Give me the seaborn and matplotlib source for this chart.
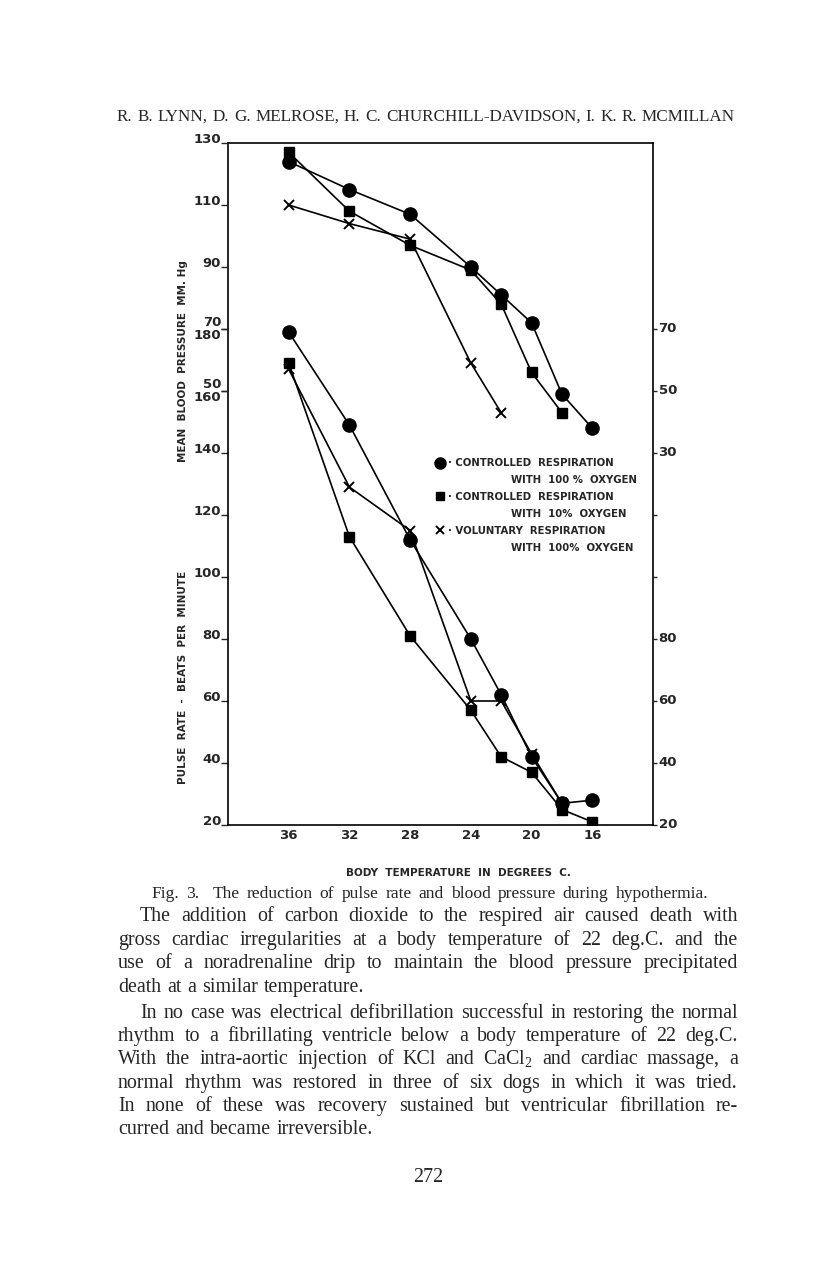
import pandas as pd
import seaborn as sns
import matplotlib.pyplot as plt
from matplotlib.lines import Line2D

# body temperatures (deg C) at which readings were taken
temps = [36, 32, 28, 24, 22, 20, 18, 16]

# mean blood pressure, mm Hg (upper curves)
bp_ctrl_100 = [124, 115, 107, 90, 81, 72, 49, 38]
bp_ctrl_10 = [127, 108, 97, 89, 78, 56, 43]
bp_vol_100 = [110, 104, 99, 59, 43]

# pulse rate, beats per minute (lower curves)
pulse_ctrl_100 = [179, 149, 112, 80, 62, 42, 27, 28]
pulse_ctrl_10 = [169, 113, 81, 57, 42, 37, 25, 21]
pulse_vol_100 = [167, 129, 115, 60, 60, 43, 27]

groups = ['ctrl_100', 'ctrl_10', 'vol_100']
legend_lines = [
    ('\u00b7 CONTROLLED  RESPIRATION', '                  WITH  100 %  OXYGEN'),
    ('\u00b7 CONTROLLED  RESPIRATION', '                  WITH  10%  OXYGEN'),
    ('\u00b7 VOLUNTARY  RESPIRATION', '                  WITH  100%  OXYGEN'),
]

# left axis: pulse ticks and blood pressure ticks share the scale
pulse_ticks = [20, 40, 60, 80, 100, 120, 140, 160, 180]
bp_ticks = [50, 70, 90, 110, 130]
right_ticks = [20, 40, 60, 80, 100, 120, 140, 160, 180]
right_labels = ['20', '40', '60', '80', '', '', '30', '50', '70']
x_ticks = [36, 32, 28, 24, 20, 16]

rows = []
for g, bp, pulse in zip(groups, [bp_ctrl_100, bp_ctrl_10, bp_vol_100],
                        [pulse_ctrl_100, pulse_ctrl_10, pulse_vol_100]):
    for t, v in zip(temps, bp):
        rows.append((g, 'bp', t, v))
    for t, v in zip(temps, pulse):
        rows.append((g, 'pulse', t, v))
df = pd.DataFrame(rows, columns=['group', 'measure', 'temp', 'value'])

marker_style = {'ctrl_100': ('o', 9.5, 1.0),
                'ctrl_10': ('s', 7.5, 1.0),
                'vol_100': ('x', 7.5, 1.4)}

sns.set_style('white')
plt.rcParams['mathtext.fontset'] = 'custom'
plt.rcParams['mathtext.rm'] = 'Liberation Serif'
plt.rcParams['mathtext.it'] = 'Liberation Serif:italic'

W, H = 816, 1271
fig = plt.figure(figsize=(W / 100, H / 100), dpi=100)
ax = fig.add_axes([228 / W, 1 - 825 / H, 425 / W, 682 / H])
ax2 = ax.twinx()

for g in groups:
    m, ms, mew = marker_style[g]
    for meas, target in [('bp', ax2), ('pulse', ax)]:
        sub = df[(df.group == g) & (df.measure == meas)]
        sns.lineplot(data=sub, x='temp', y='value', ax=target, color='k',
                     marker=m, markersize=ms, mec='k', mew=mew, lw=1.2,
                     sort=False, legend=False, errorbar=None)

ax.set_xlim(40, 12)
ax.set_ylim(20, 240)
ax2.set_ylim(-90, 130)
for a in (ax, ax2):
    a.set_xlabel('')
    a.set_ylabel('')

tick_font = dict(family='DejaVu Sans', weight='bold', size=9.5)

ax.set_xticks(x_ticks)
ax.set_xticklabels([str(t) for t in x_ticks], **tick_font)
ax.tick_params(axis='x', length=2, pad=1, width=1)

ax.set_yticks(pulse_ticks)
ax.set_yticklabels([str(t) for t in pulse_ticks], **tick_font)
ax.tick_params(axis='y', left=True, length=5, width=1, pad=0)
for lab, t in zip(ax.get_yticklabels(), pulse_ticks):
    lab.set_va('top' if t >= 160 else 'baseline')

ax2.yaxis.tick_left()
ax2.set_yticks(bp_ticks)
ax2.set_yticklabels([str(t) for t in bp_ticks], **tick_font)
ax2.tick_params(axis='y', left=True, right=False, length=5, width=1, pad=0)
for lab, t in zip(ax2.get_yticklabels(), bp_ticks):
    lab.set_va('bottom' if t <= 70 else 'baseline')
for s in ax2.spines.values():
    s.set_visible(False)

sec = ax.secondary_yaxis('right')
sec.set_ticks(right_ticks, labels=right_labels)
sec.tick_params(length=3, width=1, pad=1)
for lab in sec.get_yticklabels():
    lab.set_fontproperties(dict(family='DejaVu Sans', weight='bold', size=9.5))
    lab.set_va('center')
sec.spines['right'].set_visible(False)

for s in ax.spines.values():
    s.set_visible(True)
    s.set_linewidth(1.2)
    s.set_color('k')

# legend: one row per printed line, marker only on the first line of each key
handles, labels = [], []
for g, (first, second) in zip(groups, legend_lines):
    handles.append(Line2D([], [], ls='none', color='k', marker=marker_style[g][0],
                          markersize=marker_style[g][1] - 1.5,
                          mew=marker_style[g][2]))
    labels.append(first)
    handles.append(Line2D([], [], ls='none'))
    labels.append(second)
leg = ax2.legend(handles, labels, loc='upper left',
                 bbox_to_anchor=((431 - 228) / 425, 1 - (453 - 143) / 682),
                 frameon=False, handlelength=0.8, handletextpad=0.4,
                 borderpad=0, labelspacing=0.68,
                 prop=dict(family='DejaVu Sans', weight='bold', size=7.3))

lab_font = dict(family='DejaVu Sans', weight='bold', size=7.5)
fig.text(183 / W, 1 - 361 / H, 'MEAN  BLOOD  PRESSURE  MM. Hg', rotation=90,
         ha='center', va='center', **lab_font)
fig.text(183 / W, 1 - 677 / H, 'PULSE  RATE  -  BEATS  PER  MINUTE', rotation=90,
         ha='center', va='center', **lab_font)
fig.text(458 / W, 1 - 873 / H, 'BODY  TEMPERATURE  IN  DEGREES  C.',
         ha='center', va='center', **lab_font)

# page text set in a serif face, justified word by word
renderer = fig.canvas.get_renderer()
serif = 'Liberation Serif'


def set_line(text, x0, x1, base, size, justify=True):
    words = text.split(' ')
    objs = [fig.text(0, 1 - base / H, w, fontsize=size, family=serif,
                     va='baseline', ha='left') for w in words]
    widths = [o.get_window_extent(renderer).width for o in objs]
    if justify and len(words) > 1:
        gap = (x1 - x0 - sum(widths)) / (len(words) - 1)
    else:
        gap = size * 0.3 * 100 / 72
    x = x0
    for o, w in zip(objs, widths):
        o.set_x(x / W)
        x += w + gap


set_line('R. B. LYNN, D. G. MELROSE, H. C. CHURCHILL-DAVIDSON, I. K. R. MCMILLAN',
         117, 735, 121, 12.3)
set_line('Fig. 3.  The reduction of pulse rate and blood pressure during hypothermia.',
         151, 708, 898, 12.6)

body = [
    ('The addition of carbon dioxide to the respired air caused death with', 140, True),
    ('gross cardiac irregularities at a body temperature of 22 deg.C. and the', 118, True),
    ('use of a noradrenaline drip to maintain the blood pressure precipitated', 118, True),
    ('death at a similar temperature.', 118, False),
    ('In no case was electrical defibrillation successful in restoring the normal', 140, True),
    ('rhythm to a fibrillating ventricle below a body temperature of 22 deg.C.', 118, True),
    ('With the intra-aortic injection of KCl and CaCl$_\\mathrm{2}$ and cardiac massage, a', 118, True),
    ('normal rhythm was restored in three of six dogs in which it was tried.', 118, True),
    ('In none of these was recovery sustained but ventricular fibrillation re-', 118, True),
    ('curred and became irreversible.', 118, False),
]
baselines = [921, 945, 968, 992, 1018, 1041, 1064, 1088, 1111, 1134]
for (line, x0, just), b in zip(body, baselines):
    set_line(line, x0, 738, b, 14.4, just)

fig.text(428 / W, 1 - 1182 / H, '272', fontsize=14.4, family=serif,
         ha='center', va='baseline')

fig.savefig('out.png', dpi=100)
